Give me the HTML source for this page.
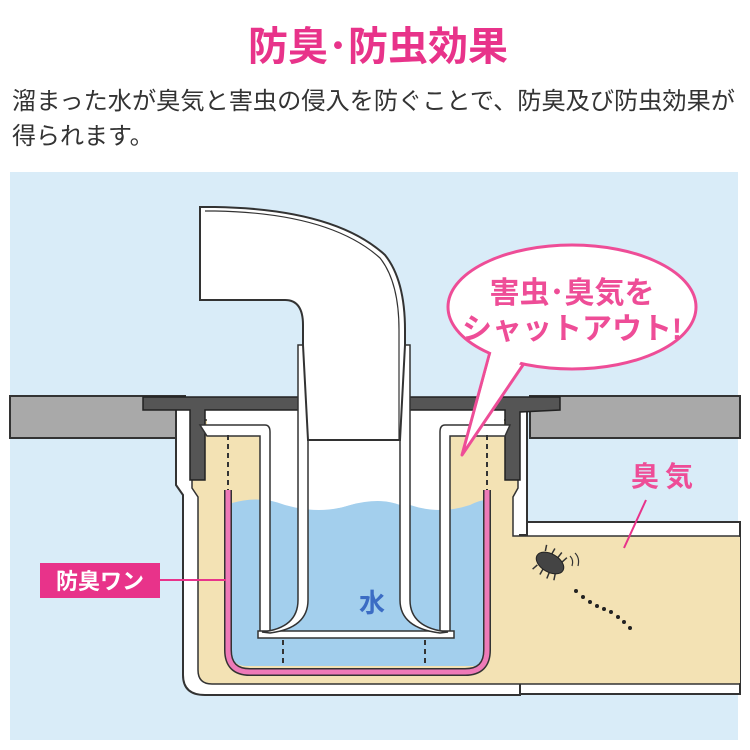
<!DOCTYPE html>
<html><head><meta charset="utf-8"><style>
html,body{margin:0;padding:0;background:#fff;width:750px;height:750px;overflow:hidden}
svg{display:block}
text{font-family:"Liberation Sans","Noto Sans CJK JP",sans-serif}
</style></head><body>
<svg width="750" height="750" viewBox="0 0 750 750">
<text x="378" y="60" text-anchor="middle" font-size="40" font-weight="bold" fill="#e8338a">防臭･防虫効果</text>
<text x="12" y="109" font-size="24" fill="#333" textLength="723" lengthAdjust="spacingAndGlyphs">溜まった水が臭気と害虫の侵入を防ぐことで、防臭及び防虫効果が</text>
<text x="12" y="144" font-size="24" fill="#333">得られます。</text>

<rect x="10" y="172" width="728" height="568" fill="#d9ecf8"/>
<!-- floor slabs -->
<rect x="10" y="396" width="175" height="42" fill="#a9a9a9" stroke="#333" stroke-width="2"/>
<rect x="530" y="396" width="210" height="42" fill="#a9a9a9" stroke="#333" stroke-width="2"/>
<!-- right pipe -->
<rect x="505" y="522" width="235" height="172" fill="#fff" stroke="#333" stroke-width="2"/>
<!-- body outer -->
<path d="M176,405 L176,485 L183,495 L183,675 Q183,695 205,695 L520,695 L520,535 L527,535 L527,405 Z" fill="#fff" stroke="#333" stroke-width="2"/>
<path d="M192,420 L192,488 L198,497 L198,670 Q198,684 212,684 L740,684 L740,536 L513,536 L513,497 L518,488 L518,420 Z" fill="#f3e2b4" stroke="#333" stroke-width="1.5"/>
<rect x="505" y="537" width="235" height="146" fill="#f3e2b4"/>
<!-- flange -->
<path d="M143,397 L300,397 L300,410 L205,410 L205,480 L190,480 L190,410 L143,410 Z" fill="#555" stroke="#222" stroke-width="1.5"/>
<path d="M405,397 L560,397 L560,410 L520,412 L520,480 L505,480 L505,410 L405,410 Z" fill="#555" stroke="#222" stroke-width="1.5"/>
<!-- white top region inside -->
<rect x="207" y="411" width="297" height="14" fill="#fff"/>
<rect x="268" y="425" width="174" height="90" fill="#fff"/>
<!-- water -->
<path d="M232,503 Q260,495 285,505 Q320,515 350,505 Q380,495 410,505 Q440,515 470,505 Q480,500 486,500 L486,655 Q486,666 472,666 L246,666 Q232,666 232,652 Z" fill="#a3cfed"/>
<!-- inner cup walls -->
<path d="M200,425 L265,425 Q270,425 270,432 L270,633 L260,633 L260,436 L207,436 Z" fill="#fff" stroke="#333" stroke-width="1.5"/>
<path d="M510,425 L445,425 Q440,425 440,432 L440,633 L450,633 L450,436 L505,436 Z" fill="#fff" stroke="#333" stroke-width="1.5"/>
<rect x="258" y="631" width="196" height="7" fill="#fff" stroke="#333" stroke-width="1.5"/>
<!-- dashed lines -->
<g stroke="#333" stroke-width="2" stroke-dasharray="5,4">
<line x1="228" y1="435" x2="228" y2="490"/><line x1="487" y1="435" x2="487" y2="490"/>
<line x1="283" y1="640" x2="283" y2="666"/><line x1="425" y1="640" x2="425" y2="666"/>
</g>
<!-- pink wan -->
<path d="M228,490 L228,650 Q228,672 250,672 L465,672 Q487,672 487,650 L487,490" fill="none" stroke="#333" stroke-width="8"/>
<path d="M228,490 L228,650 Q228,672 250,672 L465,672 Q487,672 487,650 L487,490" fill="none" stroke="#ee7ab8" stroke-width="5"/>
<!-- pipe interior white above water -->
<path d="M308,345 L400,345 L400,505 Q380,497 350,505 Q325,513 308,505 Z" fill="#fff"/>
<!-- pipe walls with flare -->
<path d="M298,345 L298,600 Q298,628 262,632 L270,633 Q308,628 308,600 L308,345 Z" fill="#fff" stroke="#333" stroke-width="1.5"/>
<path d="M410,345 L410,600 Q410,628 448,632 L440,633 Q400,628 400,600 L400,345 Z" fill="#fff" stroke="#333" stroke-width="1.5"/>
<!-- elbow -->
<path d="M200,207 L215,207 Q335,209 385,255 Q405,280 405,330 L405,345 L400,440 L308,440 L303,345 L303,325 Q303,300 285,300 L200,300 Z" fill="#fff" stroke="#333" stroke-width="2"/>
<path d="M205,211 L215,211 Q330,213 380,258 Q399,282 399,330 L399,440" fill="none" stroke="#333" stroke-width="1.2"/>
<line x1="308" y1="440" x2="400" y2="440" stroke="#333" stroke-width="1.5"/>
<text x="372" y="612" text-anchor="middle" font-size="26" font-weight="bold" fill="#3b6cc4">水</text>
<!-- label 防臭ワン -->
<line x1="160" y1="580" x2="226" y2="580" stroke="#e8338a" stroke-width="2"/>
<rect x="40" y="563" width="120" height="35" fill="#e8338a"/>
<text x="100" y="589" text-anchor="middle" font-size="22" font-weight="bold" fill="#fff">防臭ワン</text>
<!-- 臭気 -->
<text x="665" y="486" text-anchor="middle" font-size="28" font-weight="bold" fill="#ee4d97" letter-spacing="6">臭気</text>
<line x1="646" y1="500" x2="624" y2="548" stroke="#e8338a" stroke-width="2"/>
<!-- bug -->
<g transform="translate(550,563) rotate(30)">
<g stroke="#333" stroke-width="1.5">
<line x1="-10" y1="-8" x2="-12" y2="-14"/><line x1="-3" y1="-8" x2="-3" y2="-15"/><line x1="4" y1="-8" x2="5" y2="-15"/><line x1="10" y1="-7" x2="12" y2="-13"/>
<line x1="-10" y1="8" x2="-12" y2="14"/><line x1="-3" y1="8" x2="-3" y2="15"/><line x1="4" y1="8" x2="5" y2="15"/><line x1="10" y1="7" x2="12" y2="13"/>
</g>
<ellipse cx="0" cy="0" rx="15" ry="9" fill="#444" stroke="#222"/>
</g>
<g fill="#222"><circle cx="576" cy="591" r="2"/><circle cx="583" cy="597" r="2"/><circle cx="590" cy="602" r="2"/><circle cx="597" cy="606" r="2"/><circle cx="604" cy="609" r="2"/><circle cx="611" cy="612" r="2"/><circle cx="618" cy="617" r="2"/><circle cx="624" cy="622" r="2"/><circle cx="630" cy="628" r="2"/></g>
<path d="M570,556 q4,4 2,10 M575,553 q5,5 3,13" fill="none" stroke="#333" stroke-width="1.2"/>
<!-- bubble -->
<path d="M490,352 L462,455 L525,362 Z" fill="#fff" stroke="#ee4d97" stroke-width="3" stroke-linejoin="round"/>
<ellipse cx="572" cy="307" rx="124" ry="62" fill="#fff" stroke="#ee4d97" stroke-width="3"/>
<path d="M492,350 L468,440 L522,360 Z" fill="#fff"/>
<text x="572" y="303" text-anchor="middle" font-size="30" font-weight="bold" fill="#ee4d97">害虫･臭気を</text>
<text x="572" y="339" text-anchor="middle" font-size="30" font-weight="bold" fill="#ee4d97">シャットアウト!</text>
</svg>
</body></html>
